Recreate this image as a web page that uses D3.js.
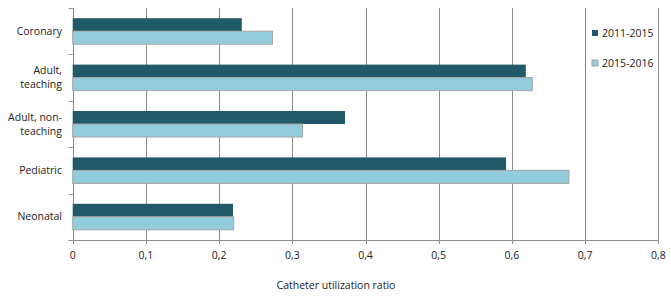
<!DOCTYPE html>
<html>
<head>
<meta charset="utf-8">
<script src="https://cdn.jsdelivr.net/npm/d3@7"></script>
<style>
  body { margin: 0; background: #fff; }
  svg text { font-family: "Open Sans", "DejaVu Sans", sans-serif; font-size: 10.5px; fill: #222; }
</style>
</head>
<body>
<svg id="chart" width="671" height="296"></svg>
<script>
// Chart data
var categories = ["Coronary", "Adult, teaching", "Adult, non-teaching", "Pediatric", "Neonatal"];
var categoryLines = [["Coronary"], ["Adult,", "teaching"], ["Adult, non-", "teaching"], ["Pediatric"], ["Neonatal"]];
var seriesNames = ["2011-2015", "2015-2016"];
var values2011 = [0.231, 0.619, 0.372, 0.592, 0.219];
var values2015 = [0.273, 0.628, 0.314, 0.678, 0.220];
var xTicks = [0, 0.1, 0.2, 0.3, 0.4, 0.5, 0.6, 0.7, 0.8];
var xTickLabels = ["0", "0,1", "0,2", "0,3", "0,4", "0,5", "0,6", "0,7", "0,8"];

var colors = ["#215968", "#93cddd"];
var svg = d3.select("#chart");

// plot area edges (note: "top" is taken by window.top, so use other names)
var plotLeft = 72.7, plotRight = 658.3, plotTop = 8, plotBottom = 240;

var x = d3.scaleLinear().domain([0, 0.8]).range([plotLeft, plotRight]);
var y = d3.scaleBand().domain(categories).range([plotTop, plotBottom]);
var inner = d3.scaleBand().domain(seriesNames).range([0, 26]);

// vertical gridlines (including bottom ticks)
svg.selectAll(".grid")
    .data(xTicks)
    .enter().append("line")
    .attr("x1", function(d) { return Math.round(x(d)) + 0.5; })
    .attr("x2", function(d) { return Math.round(x(d)) + 0.5; })
    .attr("y1", plotTop)
    .attr("y2", plotBottom + 4)
    .style("stroke", "#8c8c8c")
    .style("stroke-width", 1);

// bottom axis line
svg.append("line")
    .attr("x1", plotLeft - 4).attr("x2", Math.round(plotRight) + 1)
    .attr("y1", plotBottom + 0.5).attr("y2", plotBottom + 0.5)
    .style("stroke", "#8c8c8c");

// left tick marks at band edges
var edges = categories.map(function(c) { return y(c); }).concat([plotBottom]);
svg.selectAll(".ytick")
    .data(edges)
    .enter().append("line")
    .attr("x1", plotLeft - 4).attr("x2", plotLeft)
    .attr("y1", function(d) { return Math.round(d) + 0.5; })
    .attr("y2", function(d) { return Math.round(d) + 0.5; })
    .style("stroke", "#8c8c8c");

// bars
var groups = [values2011, values2015];
groups.forEach(function(vals, s) {
    svg.selectAll(".bar" + s)
        .data(vals)
        .enter().append("rect")
        .attr("class", "bar" + s)
        .attr("x", x(0))
        .attr("y", function(d, i) { return y(categories[i]) + (y.bandwidth() - 26) / 2 + inner(seriesNames[s]); })
        .attr("width", function(d) { return x(d) - x(0); })
        .attr("height", inner.bandwidth())
        .style("fill", colors[s])
        .style("stroke", s === 1 ? "#a6a6a6" : "none")
        .style("stroke-width", 1);
});

// category labels
categoryLines.forEach(function(lines, i) {
    var cy = y(categories[i]) + y.bandwidth() / 2;
    var t = svg.append("text")
        .attr("text-anchor", "end")
        .attr("x", 62)
        .attr("y", cy - (lines.length - 1) * 7);
    lines.forEach(function(l, j) {
        t.append("tspan").attr("x", 62).attr("dy", j === 0 ? "0.35em" : "14px").text(l);
    });
});

// x tick labels
svg.selectAll(".xlabel")
    .data(xTicks)
    .enter().append("text")
    .attr("x", function(d) { return x(d); })
    .attr("y", 255)
    .attr("dy", "0.35em")
    .attr("text-anchor", "middle")
    .text(function(d, i) { return xTickLabels[i]; });

// axis title
svg.append("text")
    .attr("x", 336)
    .attr("y", 285)
    .attr("dy", "0.35em")
    .attr("text-anchor", "middle")
    .text("Catheter utilization ratio");

// legend
seriesNames.forEach(function(name, i) {
    var ly = 33 + i * 30;
    svg.append("rect")
        .attr("x", 592).attr("y", ly - 3)
        .attr("width", 6).attr("height", 6)
        .style("fill", colors[i])
        .style("stroke", i === 1 ? "#a6a6a6" : "none");
    svg.append("text")
        .attr("x", 602).attr("y", ly)
        .attr("dy", "0.35em")
        .text(name);
});
</script>
</body>
</html>
